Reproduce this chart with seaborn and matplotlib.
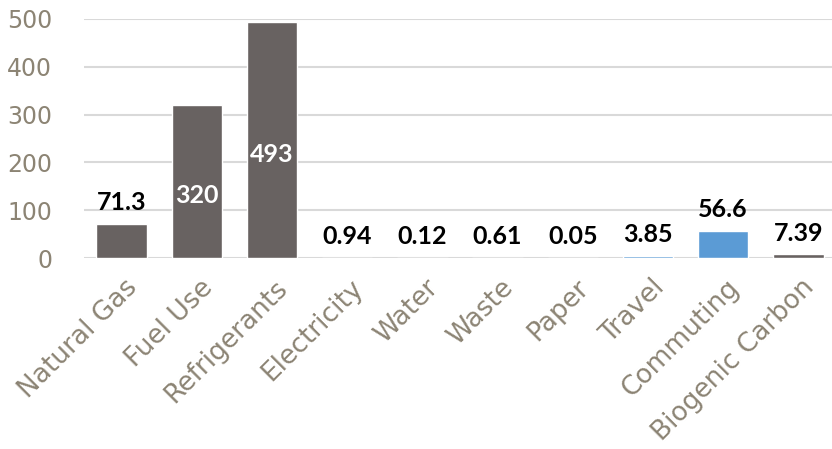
import matplotlib
matplotlib.use("Agg")
import matplotlib.pyplot as plt
import matplotlib.transforms as mtransforms
import seaborn as sns
import pandas as pd

categories = ["Natural Gas", "Fuel Use", "Refrigerants", "Electricity", "Water",
              "Waste", "Paper", "Travel", "Commuting", "Biogenic Carbon"]
values = [71.3, 320, 493, 0.94, 0.12, 0.61, 0.05, 3.85, 56.6, 7.39]
value_labels = ["71.3", "320", "493", "0.94", "0.12", "0.61", "0.05", "3.85", "56.6", "7.39"]
groups = ["direct", "direct", "direct", "other", "other", "other", "other",
          "travel", "travel", "other"]
inside_labels = ["320", "493"]
y_ticks = [0, 100, 200, 300, 400, 500]

GRAY = "#686261"
BLUE = "#5B9BD5"
TICK = "#8C8474"
GRID = "#D9D9D9"

sns.set_theme(style="white")
plt.rcParams["font.family"] = ["DejaVu Sans"]

df = pd.DataFrame({"category": categories, "value": values, "group": groups})
palette = {"direct": GRAY, "other": GRAY, "travel": BLUE}

fig = plt.figure(figsize=(8.32, 4.49), dpi=100)
ax = fig.add_axes([84 / 832, 191 / 449, 752 / 832, 239 / 449])

sns.barplot(data=df, x="category", y="value", hue="group", palette=palette,
            dodge=False, legend=False, width=0.67, ax=ax, saturation=1)

ax.set_ylim(0, 500)
ax.set_xlim(-0.5, len(categories) - 0.5)
ax.set_yticks(y_ticks)
ax.yaxis.grid(True, color=GRID, linewidth=1.5)
ax.set_axisbelow(True)
for s in ax.spines.values():
    s.set_visible(False)
ax.set_xlabel("")
ax.set_ylabel("")

ax.tick_params(axis="y", length=0, pad=23, labelsize=17, labelcolor=TICK)
ax.tick_params(axis="x", length=0, pad=12, labelsize=19, labelcolor=TICK)

shift = mtransforms.ScaledTranslation(3 / 100, 0, fig.dpi_scale_trans)
for lbl in ax.get_xticklabels():
    lbl.set_rotation(45)
    lbl.set_ha("right")
    lbl.set_va("top")
    lbl.set_rotation_mode("anchor")
    lbl.set_transform(lbl.get_transform() + shift)

for i, (v, t) in enumerate(zip(values, value_labels)):
    if t in inside_labels:
        ax.annotate(t, (i, v / 2), xytext=(0, -10), textcoords="offset points",
                    ha="center", va="center", fontsize=18, fontweight="bold",
                    color="white", family=["Lato", "DejaVu Sans"])
    else:
        ax.annotate(t, (i, v), xytext=(0, 7), textcoords="offset points",
                    ha="center", va="bottom", fontsize=18, fontweight="bold",
                    color="black", family=["Lato", "DejaVu Sans"])

fig.savefig("out.png", dpi=100)
